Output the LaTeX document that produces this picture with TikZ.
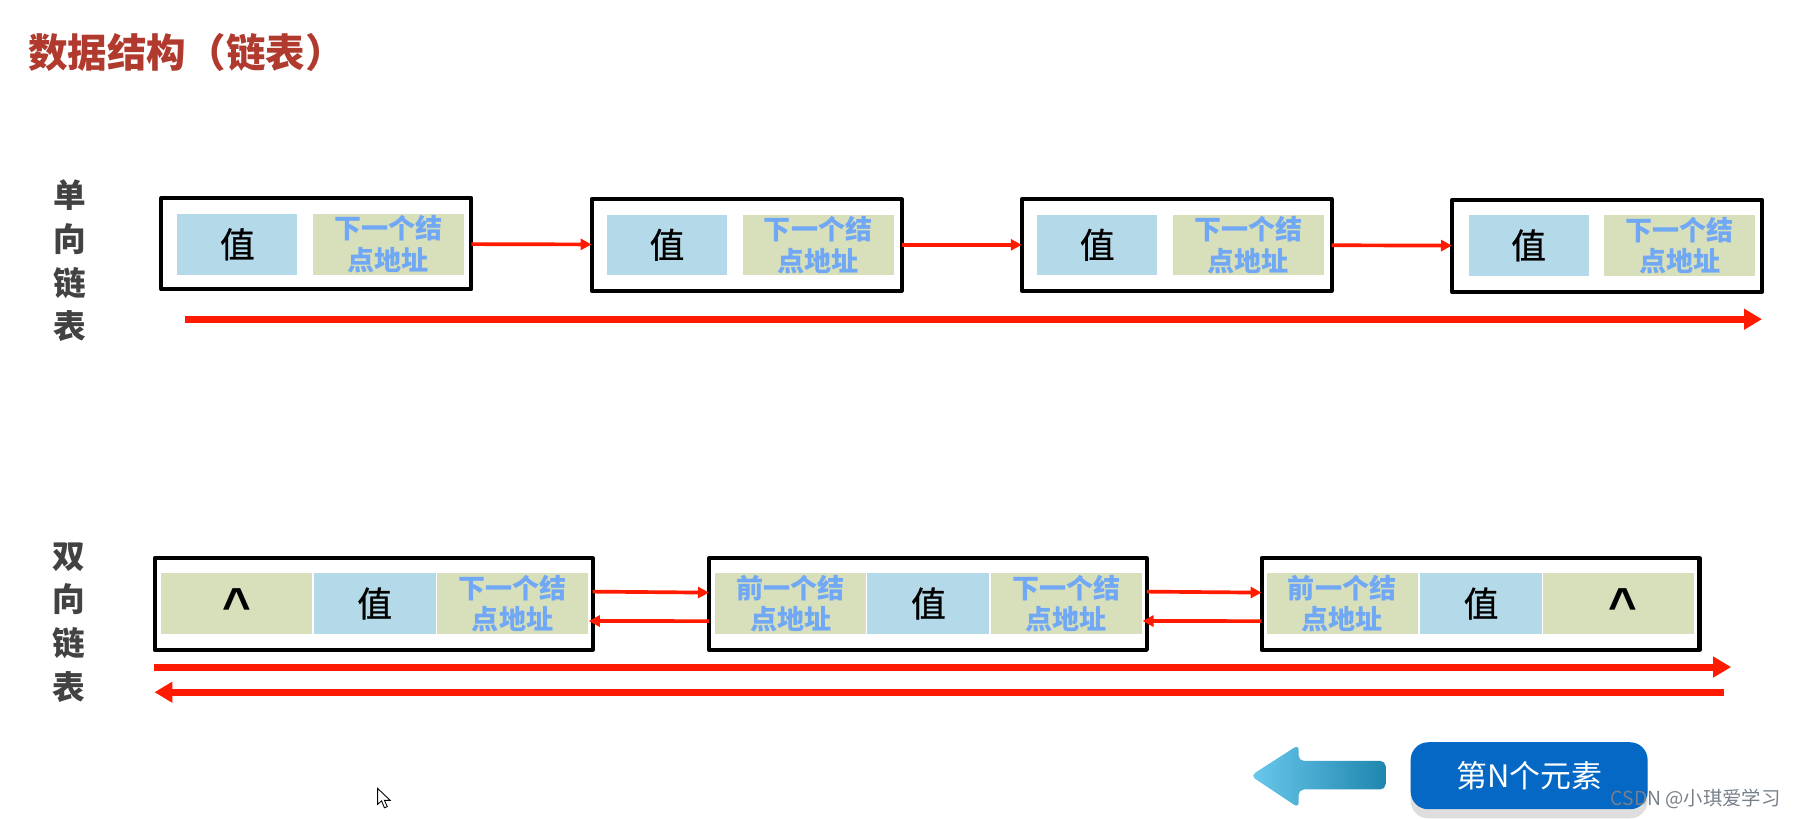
\documentclass[tikz,border=0pt]{standalone}
\usepackage{xcolor}
\usepackage{fontspec}
\newfontfamily\cjk{Noto Sans CJK SC}
\newfontfamily\cjkvalue[FakeBold=0.8]{Noto Sans CJK SC}
\newfontfamily\latin{Liberation Sans}
\usetikzlibrary{arrows.meta}
\definecolor{titlered}{HTML}{B03A2E}
\definecolor{labelgray}{HTML}{424242}
\definecolor{valueblue}{HTML}{B4D9E8}
\definecolor{addrolive}{HTML}{D7DFBB}
\definecolor{addrtext}{HTML}{70A8F6}
\definecolor{linkred}{HTML}{FF1A00}
\definecolor{btnblue}{HTML}{0468C4}
\definecolor{btnshadow}{HTML}{DEDEDE}
\definecolor{arrowlight}{HTML}{6AC8EC}
\definecolor{arrowdark}{HTML}{1F86AE}
\definecolor{marktext}{HTML}{77808A}
\tikzset{
    framebox/.style={draw=black, line width=1.15pt, line join=round, outer sep=0pt, minimum height=0.915cm},
    singlebox/.style={framebox, minimum width=3.1cm},
    doublebox/.style={framebox, minimum width=4.38cm},
    valuecell/.style={fill=valueblue, minimum width=1.22cm, minimum height=0.605cm, inner sep=0pt, font=\cjkvalue\fontsize{9.9}{11}\selectfont},
    addrcell/.style={fill=addrolive, minimum width=1.51cm, minimum height=0.605cm, inner sep=0pt, align=center, text=addrtext, font=\cjk\bfseries\fontsize{7.7}{9}\selectfont},
    sidelabel/.style={align=center, inner sep=0pt, text=labelgray, font=\cjk\bfseries\fontsize{9.3}{12.4}\selectfont},
    thinlink/.style={draw=linkred, line width=1.05pt, -{Triangle[length=1.1mm,width=1.1mm]}},
    thicklink/.style={draw=linkred, line width=2pt, -{Triangle[length=1.8mm,width=2mm]}},
    nullmark/.style={inner sep=0pt, font=\latin\bfseries\fontsize{14}{14}\selectfont}
}
\begin{document}
\begin{tikzpicture}[x=0.01144cm, y=-0.01144cm]
    \useasboundingbox (0, 0) rectangle (1568, 715);

    \node[inner sep=0pt, text=titlered, font=\cjk\bfseries\fontsize{11.25}{13}\selectfont] (title) at (163, 46) {数据结构（链表）};

    \node[sidelabel] (singlelabel) at (61, 228) {单\\向\\链\\表};
    \node[singlebox] (s1) at (276.5, 213) {};
    \node[singlebox] (s2) at (652.5, 214) {};
    \node[singlebox] (s3) at (1028.5, 214) {};
    \node[singlebox] (s4) at (1404.5, 215) {};

    \node[valuecell, minimum width=1.2cm] (s1v) at (207.5, 213.5) {值};
    \node[addrcell] (s1n) at (339.5, 213.5) {下一个结\\点地址};
    \node[valuecell, minimum width=1.2cm] (s2v) at (583, 214) {值};
    \node[addrcell] (s2n) at (715, 214) {下一个结\\点地址};
    \node[valuecell, minimum width=1.2cm] (s3v) at (959, 214) {值};
    \node[addrcell] (s3n) at (1091, 214) {下一个结\\点地址};
    \node[valuecell, minimum width=1.2cm] (s4v) at (1336, 214.5) {值};
    \node[addrcell] (s4n) at (1468, 214.5) {下一个结\\点地址};

    \draw[thinlink] (s1) -- (s2);
    \draw[thinlink] (s2) -- (s3);
    \draw[thinlink] (s3) -- (s4);

    \coordinate (singlestart) at (162, 279);
    \coordinate (singleend) at (1540, 279);
    \draw[thicklink] (singlestart) -- (singleend);

    \node[sidelabel] (doublelabel) at (60, 544) {双\\向\\链\\表};
    \node[doublebox] (d1) at (326.5, 528) {};
    \node[doublebox] (d2) at (811, 528) {};
    \node[doublebox] (d3) at (1294, 528) {};

    \node[addrcell] (d1p) at (207, 527.5) {};
    \node[nullmark] (d1pm) at (207, 529) {\textasciicircum};
    \node[valuecell] (d1v) at (327.5, 527.5) {值};
    \node[addrcell] (d1n) at (448, 527.5) {下一个结\\点地址};
    \node[addrcell] (d2p) at (691, 527.5) {前一个结\\点地址};
    \node[valuecell] (d2v) at (811.5, 527.5) {值};
    \node[addrcell] (d2n) at (932, 527.5) {下一个结\\点地址};
    \node[addrcell] (d3p) at (1173, 527.5) {前一个结\\点地址};
    \node[valuecell] (d3v) at (1294.5, 527.5) {值};
    \node[addrcell] (d3n) at (1415, 527.5) {};
    \node[nullmark] (d3nm) at (1418, 529) {\textasciicircum};

    \draw[thinlink] ([yshift=0.125cm]d1.east) -- ([yshift=0.115cm]d2.west);
    \draw[thinlink] ([yshift=-0.17cm]d2.west) -- ([yshift=-0.175cm]d1n.east);
    \draw[thinlink] ([yshift=0.125cm]d2.east) -- ([yshift=0.115cm]d3.west);
    \draw[thinlink] ([yshift=-0.17cm]d3.west) -- ([yshift=-0.175cm]d2n.east);

    \coordinate (forwardstart) at (135, 583);
    \coordinate (forwardend) at (1513, 583);
    \coordinate (backstart) at (1507, 605);
    \coordinate (backend) at (135, 605);
    \draw[thicklink] (forwardstart) -- (forwardend);
    \draw[thicklink] (backstart) -- (backend);

    \shade[left color=arrowlight, middle color=arrowlight, right color=arrowdark, rounded corners=1.5pt]
        (1093, 678) -- (1135, 651) -- (1135, 665) -- (1211, 665) -- (1211, 690) -- (1135, 690) -- (1135, 706) -- cycle;

    \node[fill=btnshadow, rounded corners=5pt, minimum width=2.37cm, minimum height=0.67cm] (btnback) at (1336.5, 686) {};
    \node[fill=btnblue, rounded corners=5pt, minimum width=2.37cm, minimum height=0.67cm, text=white, font=\cjk\fontsize{8.8}{10}\selectfont] (btn) at (1336.5, 678) {第N个元素};

    \node[inner sep=0pt, text=marktext, font=\cjk\fontsize{5.5}{6}\selectfont] (mark) at (1482, 698) {CSDN @小琪爱学习};

    \draw[fill=white, line width=0.25pt] (330, 689) -- (330, 703) -- (333.5, 700) -- (336, 706) -- (338.5, 705) -- (336, 699.5) -- (341, 699.5) -- cycle;
\end{tikzpicture}
\end{document}
